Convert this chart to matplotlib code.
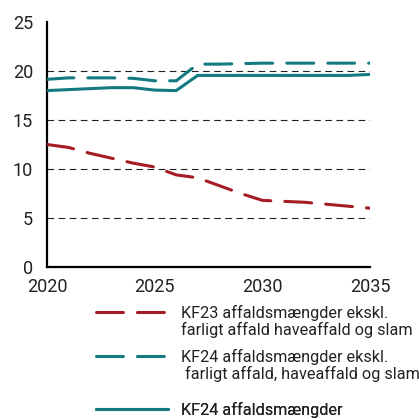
import matplotlib
matplotlib.use("Agg")
import matplotlib.pyplot as plt
from matplotlib.lines import Line2D

years = list(range(2020, 2036))
kf23_ekskl = [12.5, 12.2, 11.6, 11.1, 10.6, 10.2, 9.4, 9.1, 8.3, 7.5, 6.8, 6.7, 6.6, 6.4, 6.2, 6.0]
kf24_ekskl = [19.15, 19.3, 19.3, 19.3, 19.25, 19.0, 19.0, 20.7, 20.7, 20.75, 20.8, 20.8, 20.8, 20.8, 20.8, 20.8]
kf24_total = [18.0, 18.1, 18.2, 18.3, 18.3, 18.05, 18.0, 19.55, 19.55, 19.55, 19.55, 19.55, 19.55, 19.55, 19.55, 19.65]

labels = [
    ["KF23 affaldsmængder ekskl.", "farligt affald haveaffald og slam"],
    ["KF24 affaldsmængder ekskl.", " farligt affald, haveaffald og slam"],
    ["KF24 affaldsmængder"],
]
legend_tops_px = [305, 349, 402]
yticks = [0, 5, 10, 15, 20, 25]
xticks = [2020, 2025, 2030, 2035]

red = "#A61C24"
teal = "#147A82"

plt.rcParams['font.family'] = ['Roboto', 'DejaVu Sans']

fig = plt.figure(figsize=(4.19, 4.19), dpi=100)
ax = fig.add_axes([47/419, 1-267/419, (370-47)/419, (267-22)/419])

for y in [5, 10, 15, 20]:
    ax.axhline(y, color="#222222", lw=0.8, dashes=(6, 4), zorder=1)

dash = (8.8, 4.6)
l1, = ax.plot(years, kf23_ekskl, color=red, lw=2.2, dashes=dash, zorder=3, dash_capstyle='round')
l2, = ax.plot(years, kf24_ekskl, color=teal, lw=2.2, dashes=dash, zorder=3, dash_capstyle='round')
l3, = ax.plot(years, kf24_total, color=teal, lw=2.2, zorder=3, solid_capstyle='round')

ax.set_xlim(2020, 2035)
ax.set_ylim(0, 25)
ax.set_yticks(yticks)
ax.set_xticks(xticks)
ax.tick_params(axis='both', length=0, labelsize=13, colors="#222222")
ax.tick_params(axis='y', pad=10)
ax.tick_params(axis='x', pad=8)
for s in ['top', 'right']:
    ax.spines[s].set_visible(False)
for s in ['left', 'bottom']:
    ax.spines[s].set_linewidth(1.6)
    ax.spines[s].set_color("black")

blank = Line2D([], [], color='none')
for handle, labs, top in zip([l1, l2, l3], labels, legend_tops_px):
    hs = [handle] + [blank] * (len(labs) - 1)
    leg = ax.legend(hs, labs, loc='upper left', bbox_to_anchor=(96/419, 1-top/419),
                    bbox_transform=fig.transFigure, frameon=False, fontsize=11.7,
                    handlelength=4.4, handletextpad=0.85, labelspacing=0.08,
                    borderaxespad=0, borderpad=0)
    for t in leg.get_texts():
        t.set_color("#222222")
    ax.add_artist(leg)

fig.savefig("out.png", dpi=100)
